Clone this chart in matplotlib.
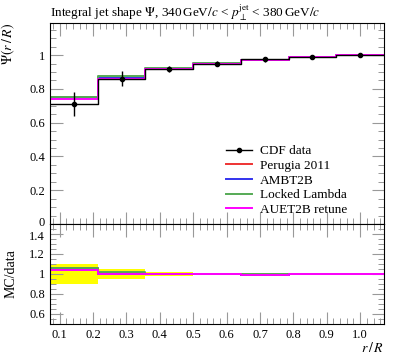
import numpy as np
import matplotlib
matplotlib.use("Agg")
import matplotlib.pyplot as plt
import matplotlib.transforms as mtransforms
from matplotlib.ticker import MultipleLocator, FixedLocator
from matplotlib.lines import Line2D

plt.rcParams['font.family'] = ['Liberation Serif', 'DejaVu Serif']
plt.rcParams['mathtext.fontset'] = 'stix'

edges = [0.0714, 0.2143, 0.3571, 0.5, 0.6429, 0.7857, 0.9286, 1.0714]
xdata = [0.1429, 0.2857, 0.4286, 0.5714, 0.7143, 0.8571, 1.0]
data = [0.71, 0.86, 0.92, 0.95, 0.975, 0.99, 1.0]
data_err = [0.07, 0.043, 0.018, 0.014, 0.014, 0.011, 0.001]
perugia = [0.752, 0.865, 0.920, 0.950, 0.970, 0.990, 1.0]
ambt2b = [0.748, 0.862, 0.918, 0.949, 0.969, 0.989, 1.0]
locked = [0.752, 0.877, 0.922, 0.951, 0.971, 0.990, 1.0]
auet2b = [0.740, 0.860, 0.918, 0.948, 0.969, 0.989, 1.0]

series = [("Perugia 2011", perugia, "#ee3333"),
          ("AMBT2B", ambt2b, "#3333ee"),
          ("Locked Lambda", locked, "#55aa55"),
          ("AUET2B retune", auet2b, "#ff00ff")]

W, H = 397, 358
fig = plt.figure(figsize=(W/100, H/100), dpi=100)
L, R = 50, 384
ax = fig.add_axes([L/W, (H-224)/H, (R-L)/W, (224-23)/H])
axr = fig.add_axes([L/W, (H-324)/H, (R-L)/W, 100/H], sharex=ax)

def step(a, vals, **kw):
    v = list(vals) + [vals[-1]]
    return a.step(edges, v, where='post', **kw)

for name, vals, col in series:
    step(ax, vals, color=col, lw=1.4)
step(ax, data, color='black', lw=1.0)
ax.errorbar(xdata, data, yerr=data_err, fmt='o', color='black', ms=3, lw=1.0,
            capsize=0, zorder=5)

handles = [Line2D([], [], color='black', marker='o', ms=3, lw=1.0)]
labels = ['CDF data']
for name, vals, col in series:
    handles.append(Line2D([], [], color=col, lw=1.4))
    labels.append(name)
ax.legend(handles, labels, loc='upper left', frameon=False, fontsize=9.5,
          handlelength=2.0, handletextpad=0.55, labelspacing=0.18,
          borderaxespad=0, borderpad=0, bbox_to_anchor=(0.527, 0.392))

ax.set_xlim(edges[0], edges[-1])
ax.set_ylim(0, 1.19)
ax.yaxis.set_major_locator(FixedLocator([0, 0.2, 0.4, 0.6, 0.8, 1.0]))
ax.set_yticklabels(['0', '0.2', '0.4', '0.6', '0.8', '1'])
ax.yaxis.set_minor_locator(MultipleLocator(0.05))
ax.set_ylabel(r'$\Psi(r\,/\,R)$', fontsize=10, loc='top')
ax.set_title(r'Integral jet shape $\Psi$, 340$\,$GeV$/c$ < $p_\perp^{\rm jet}$ < 380$\,$GeV$/c$',
             fontsize=9.5, loc='left', pad=4)
plt.setp(ax.get_xticklabels(), visible=False)

# ratio
rel = [e/d for e, d in zip(data_err, data)]
for i in range(len(data)):
    axr.fill_between([edges[i], edges[i+1]], 1-rel[i], 1+rel[i], color='yellow', lw=0)
for name, vals, col in series:
    step(axr, [v/d for v, d in zip(vals, data)], color=col, lw=1.4)
axr.set_ylim(0.5, 1.5)
axr.yaxis.set_major_locator(FixedLocator([0.6, 0.8, 1.0, 1.2, 1.4]))
axr.set_yticklabels(['0.6', '0.8', '1', '1.2', '1.4'])
axr.yaxis.set_minor_locator(MultipleLocator(0.05))
axr.set_xticks(np.arange(0.1, 1.05, 0.1))
axr.xaxis.set_minor_locator(MultipleLocator(0.02))
axr.set_xticklabels(['0.1', '0.2', '0.3', '0.4', '0.5', '0.6', '0.7', '0.8', '0.9', '1.0'])
axr.set_ylabel('MC/data', fontsize=10)
axr.set_xlabel(r'$r\,/\,R$', fontsize=10, loc='right', labelpad=0)

for a in (ax, axr):
    a.tick_params(which='both', direction='in', top=True, right=True,
                  color='#999999', labelsize=9)
    a.tick_params(which='major', length=9, width=0.8)
    a.tick_params(which='minor', length=4.5, width=0.7)
    for s in a.spines.values():
        s.set_linewidth(0.8)
ax.yaxis.set_label_coords(-0.098, 1.0)
axr.yaxis.set_label_coords(-0.098, 0.5)

# nudge the touching "0" and "1.4" labels apart slightly
fig.canvas.draw()
up = mtransforms.ScaledTranslation(0, 2/100, fig.dpi_scale_trans)
down = mtransforms.ScaledTranslation(0, -2/100, fig.dpi_scale_trans)
ax.get_yticklabels()[0].set_transform(ax.get_yticklabels()[0].get_transform() + up)
axr.get_yticklabels()[-1].set_transform(axr.get_yticklabels()[-1].get_transform() + down)

fig.savefig('out.png', dpi=100)
